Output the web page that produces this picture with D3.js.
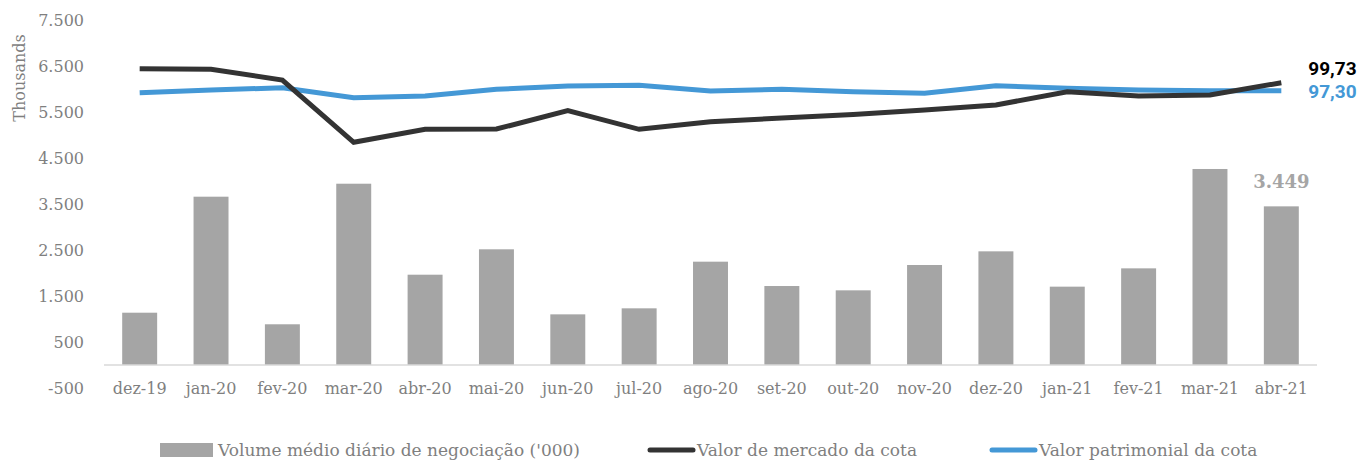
<!DOCTYPE html>
<html>
<head>
<meta charset="utf-8">
<script src="https://cdn.jsdelivr.net/npm/d3@7"></script>
<style>
  body { margin: 0; background: #fff; }
  text { font-family: "DejaVu Serif", serif; }
</style>
</head>
<body>
<div id="chart"></div>
<script>
// months on the x axis
const months = ["dez-19", "jan-20", "fev-20", "mar-20", "abr-20", "mai-20", "jun-20", "jul-20",
  "ago-20", "set-20", "out-20", "nov-20", "dez-20", "jan-21", "fev-21", "mar-21", "abr-21"];

// average daily trading volume ('000)
const volume = [1137, 3659, 885, 3941, 1963, 2515, 1101, 1232, 2246, 1717, 1623, 2174, 2471, 1703, 2101, 4261, 3449];

// market value per share
const marketValue = [103.95, 103.8, 100.55, 81.61, 85.56, 85.65, 91.22, 85.56, 87.87, 89.0, 90.06,
  91.43, 92.95, 96.99, 95.68, 95.99, 99.73];

// book value per share
const bookValue = [96.69, 97.51, 98.21, 95.17, 95.68, 97.72, 98.72, 98.94, 97.2, 97.72, 96.99,
  96.5, 98.81, 98.02, 97.51, 97.3, 97.3];

const yTicks = [-500, 500, 1500, 2500, 3500, 4500, 5500, 6500, 7500];

const legendItems = [
  { label: "Volume médio diário de negociação ('000)", type: "bar", color: "#A5A5A5" },
  { label: "Valor de mercado da cota", type: "line", color: "#333333" },
  { label: "Valor patrimonial da cota", type: "line", color: "#4498D6" },
];

const config = {
  width: 1363,
  height: 461,
  margin: { top: 20, right: 46, bottom: 73, left: 104 },
};

const locale = d3.formatLocale({ decimal: ",", thousands: ".", grouping: [3], currency: ["", ""], minus: "-" });
const fmtInt = locale.format(",.0f");
const fmtDec = locale.format(",.2f");

const svg = d3.select("#chart")
  .append("svg")
  .attr("width", config.width)
  .attr("height", config.height);

const innerW = config.width - config.margin.left - config.margin.right;
const innerH = config.height - config.margin.top - config.margin.bottom;

const x = d3.scaleBand()
  .domain(months)
  .range([config.margin.left, config.margin.left + innerW])
  .paddingInner(0.51)
  .paddingOuter(0.255);

const y = d3.scaleLinear()
  .domain([-500, 7500])
  .range([config.margin.top + innerH, config.margin.top]);

// hidden secondary axis for the per-share values
const y2 = d3.scaleLinear()
  .domain([6.9, 118.8])
  .range([config.margin.top + innerH, config.margin.top]);

// y axis labels
svg.append("g")
  .selectAll("text")
  .data(yTicks)
  .join("text")
  .attr("x", 84)
  .attr("y", d => y(d))
  .attr("dy", "0.35em")
  .attr("text-anchor", "end")
  .attr("font-size", 16)
  .attr("fill", "#7F7F7F")
  .text(d => fmtInt(d));

svg.append("text")
  .attr("transform", "translate(25,78) rotate(-90)")
  .attr("text-anchor", "middle")
  .attr("font-size", 16)
  .attr("fill", "#7F7F7F")
  .text("Thousands");

// bars
svg.append("g")
  .selectAll("rect")
  .data(volume)
  .join("rect")
  .attr("x", (d, i) => x(months[i]))
  .attr("y", d => y(d))
  .attr("width", x.bandwidth())
  .attr("height", d => y(0) - y(d))
  .attr("fill", "#A5A5A5");

// zero axis line
svg.append("line")
  .attr("x1", config.margin.left)
  .attr("x2", config.margin.left + innerW)
  .attr("y1", y(0))
  .attr("y2", y(0))
  .attr("stroke", "#D9D9D9")
  .attr("stroke-width", 1.5);

// category labels
svg.append("g")
  .selectAll("text")
  .data(months)
  .join("text")
  .attr("x", d => x(d) + x.bandwidth() / 2)
  .attr("y", y(-500))
  .attr("dy", "0.35em")
  .attr("text-anchor", "middle")
  .attr("font-size", 16)
  .attr("fill", "#7F7F7F")
  .text(d => d);

// lines
const line = d3.line()
  .x((d, i) => x(months[i]) + x.bandwidth() / 2)
  .y(d => y2(d));

svg.append("path")
  .datum(bookValue)
  .attr("d", line)
  .attr("fill", "none")
  .attr("stroke", "#4498D6")
  .attr("stroke-width", 5);

svg.append("path")
  .datum(marketValue)
  .attr("d", line)
  .attr("fill", "none")
  .attr("stroke", "#333333")
  .attr("stroke-width", 5);

// end labels
const last = months.length - 1;
const lastX = x(months[last]) + x.bandwidth() / 2;

svg.append("text")
  .attr("x", lastX + 27)
  .attr("y", y2(marketValue[last]) - 14)
  .attr("dy", "0.35em")
  .style("font-family", "Roboto")
  .attr("font-weight", "bold")
  .attr("font-size", 19)
  .attr("fill", "#000")
  .text(fmtDec(marketValue[last]));

svg.append("text")
  .attr("x", lastX + 27)
  .attr("y", y2(bookValue[last]) + 1)
  .attr("dy", "0.35em")
  .style("font-family", "Roboto")
  .attr("font-weight", "bold")
  .attr("font-size", 19)
  .attr("fill", "#4498D6")
  .text(fmtDec(bookValue[last]));

svg.append("text")
  .attr("x", lastX)
  .attr("y", y(volume[last]) - 25)
  .attr("dy", "0.35em")
  .attr("text-anchor", "middle")
  .attr("font-weight", "bold")
  .attr("font-size", 18)
  .attr("fill", "#A5A5A5")
  .text(fmtInt(volume[last]));

// legend
const legendPos = [160, 648, 990];
const legend = svg.append("g")
  .selectAll("g")
  .data(legendItems)
  .join("g")
  .attr("transform", (d, i) => `translate(${legendPos[i]},450)`);

legend.filter(d => d.type === "bar")
  .append("rect")
  .attr("x", 0)
  .attr("y", -7)
  .attr("width", 53)
  .attr("height", 14)
  .attr("fill", d => d.color);

legend.filter(d => d.type === "line")
  .append("line")
  .attr("x1", 2)
  .attr("x2", 45)
  .attr("y1", 0)
  .attr("y2", 0)
  .attr("stroke", d => d.color)
  .attr("stroke-width", 5)
  .attr("stroke-linecap", "round");

legend.append("text")
  .attr("x", d => d.type === "bar" ? 58 : 49)
  .attr("y", 0)
  .attr("dy", "0.35em")
  .attr("font-size", 17)
  .attr("fill", "#7F7F7F")
  .text(d => d.label);
</script>
</body>
</html>
